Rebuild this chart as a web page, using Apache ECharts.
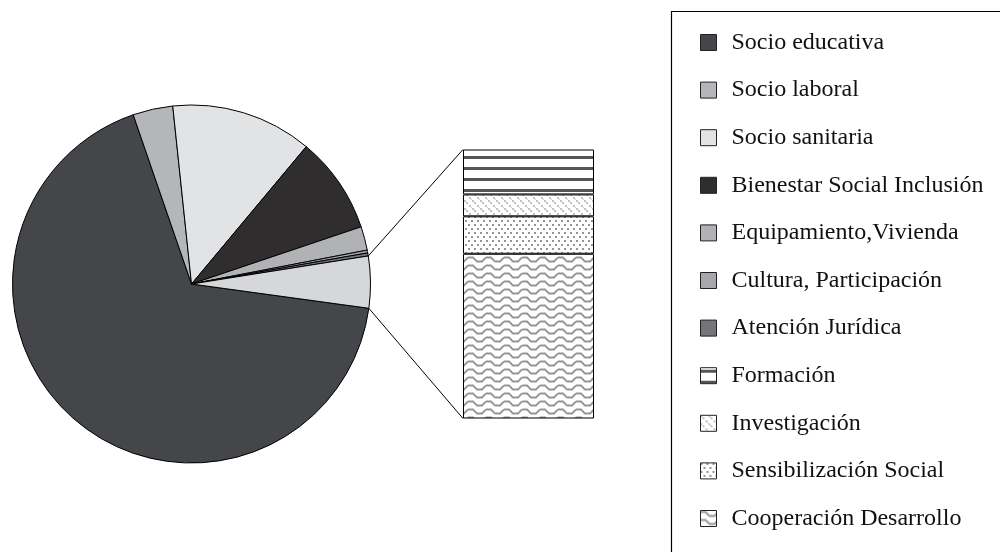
<!DOCTYPE html>
<html>
<head>
<meta charset="utf-8">
<script src="https://cdn.jsdelivr.net/npm/echarts@6/dist/echarts.min.js"></script>
<style>
html,body{margin:0;padding:0;background:#fff;}
#chart{width:1000px;height:552px;}
</style>
</head>
<body>
<div id="chart"></div>
<script>
// ---- data ----
const pieCategories = ['Socio educativa','Socio laboral','Socio sanitaria','Bienestar Social Inclusión','Equipamiento,Vivienda','Cultura, Participación','Atención Jurídica'];
const pieValues = [67.56, 3.61, 12.75, 8.75, 2.14, 0.25, 0.28];
const barCategories = ['Formación','Investigación','Sensibilización Social','Cooperación Desarrollo'];
const barValues = [0.78, 0.38, 0.65, 2.86];
const otherName = 'Otros';

// ---- styles ----
const pieColors = ['#45464a','#b5b6b9','#e2e3e4','#2f2d2e','#b1b2b5','#a7a8ab','#747578'];
const otherColor = '#d6d7d9';
const FONT = "'Liberation Serif','Times New Roman',serif";

function makePattern(w, h, draw) {
  const c = document.createElement('canvas');
  c.width = w; c.height = h;
  const ctx = c.getContext('2d');
  ctx.fillStyle = '#fff';
  ctx.fillRect(0, 0, w, h);
  draw(ctx);
  return { image: c, repeat: 'repeat' };
}
const patFormacion = makePattern(8, 22, ctx => {
  ctx.fillStyle = '#555';
  ctx.fillRect(0, 2, 8, 3);
  ctx.fillRect(0, 13, 8, 3);
});
const patInvestigacion = makePattern(8, 8, ctx => {
  ctx.fillStyle = '#c2c2c2';
  ctx.fillRect(0, 0, 2, 2);
  ctx.fillRect(2, 2, 2, 2);
  ctx.fillRect(5, 5, 2, 2);
  ctx.fillRect(7, 7, 1, 1);
});
const patSensib = makePattern(6, 8, ctx => {
  ctx.fillStyle = '#959595';
  ctx.fillRect(0, 0, 2, 2);
  ctx.fillRect(3, 4, 2, 2);
});
const patCoop = makePattern(18, 8, ctx => {
  ctx.strokeStyle = '#959595';
  ctx.lineWidth = 1.8;
  ctx.beginPath();
  ctx.moveTo(0, 1.5); ctx.lineTo(5, 1.5); ctx.lineTo(9, 5.5); ctx.lineTo(14, 5.5); ctx.lineTo(18, 1.5);
  ctx.stroke();
});
const barPatterns = [patFormacion, patInvestigacion, patSensib, patCoop];

// ---- layout ----
const pieCenter = [191.5, 284];
const pieRadius = 179;
const pieStart = -7.8;
const gridBox = { left: 463, top: 149.5, width: 131, height: 269 };

const otherValue = barValues.reduce((a, b) => a + b, 0);
const pieData = pieCategories.map((n, i) => ({ name: n, value: pieValues[i], itemStyle: { color: pieColors[i] } }));
pieData.push({ name: otherName, value: otherValue, itemStyle: { color: otherColor } });

const barSeries = [];
for (let i = barCategories.length - 1; i >= 0; i--) {
  barSeries.push({
    type: 'bar',
    name: barCategories[i],
    stack: 'total',
    barWidth: '100%',
    data: [barValues[i]],
    itemStyle: { color: barPatterns[i], borderColor: '#000', borderWidth: 1 },
    emphasis: { disabled: true },
    silent: true
  });
}

const chart = echarts.init(document.getElementById('chart'), null, { renderer: 'canvas' });
const option = {
  animation: false,
  backgroundColor: '#fff',
  grid: { left: gridBox.left, top: gridBox.top, width: gridBox.width, height: gridBox.height, containLabel: false },
  xAxis: { type: 'category', data: [''], show: false },
  yAxis: { type: 'value', min: 0, max: otherValue, show: false },
  legend: {
    orient: 'vertical',
    left: 700,
    top: 30.5,
    padding: 0,
    itemWidth: 16,
    itemHeight: 16,
    itemGap: 23.6,
    icon: 'rect',
    selectedMode: false,
    data: pieCategories.concat(barCategories),
    itemStyle: { borderColor: '#222', borderWidth: 1 },
    textStyle: { fontFamily: FONT, fontSize: 24, color: '#111', lineHeight: 24, padding: [0, 0, 0, 10] }
  },
  series: [{
    type: 'pie',
    center: pieCenter,
    radius: pieRadius,
    startAngle: pieStart,
    clockwise: true,
    label: { show: false },
    labelLine: { show: false },
    silent: true,
    emphasis: { disabled: true },
    itemStyle: { borderColor: '#000', borderWidth: 1 },
    data: pieData
  }].concat(barSeries)
};
chart.setOption(option);

// connector lines from the "other" slice to the bar, plus legend frame
const totalPie = pieData.reduce((a, d) => a + d.value, 0);
const otherStartMath = pieStart - 360 * (totalPie - otherValue) / totalPie;
const otherEndMath = pieStart - 360;
function piePoint(deg) {
  const r = deg * Math.PI / 180;
  return [pieCenter[0] + pieRadius * Math.cos(r), pieCenter[1] - pieRadius * Math.sin(r)];
}
const pTop = piePoint(otherStartMath);
const pBot = piePoint(otherEndMath);
const barTopY = chart.convertToPixel({ yAxisIndex: 0 }, otherValue);
const barBotY = chart.convertToPixel({ yAxisIndex: 0 }, 0);
chart.setOption({
  graphic: [
    { type: 'line', shape: { x1: pTop[0], y1: pTop[1], x2: gridBox.left, y2: barTopY }, style: { stroke: '#000', lineWidth: 1 }, silent: true },
    { type: 'line', shape: { x1: pBot[0], y1: pBot[1], x2: gridBox.left, y2: barBotY }, style: { stroke: '#000', lineWidth: 1 }, silent: true },
    { type: 'rect', shape: { x: 671.5, y: 11.5, width: 400, height: 600 }, style: { fill: 'none', stroke: '#000', lineWidth: 1.2 }, silent: true, z: -1 }
  ]
});
</script>
</body>
</html>
